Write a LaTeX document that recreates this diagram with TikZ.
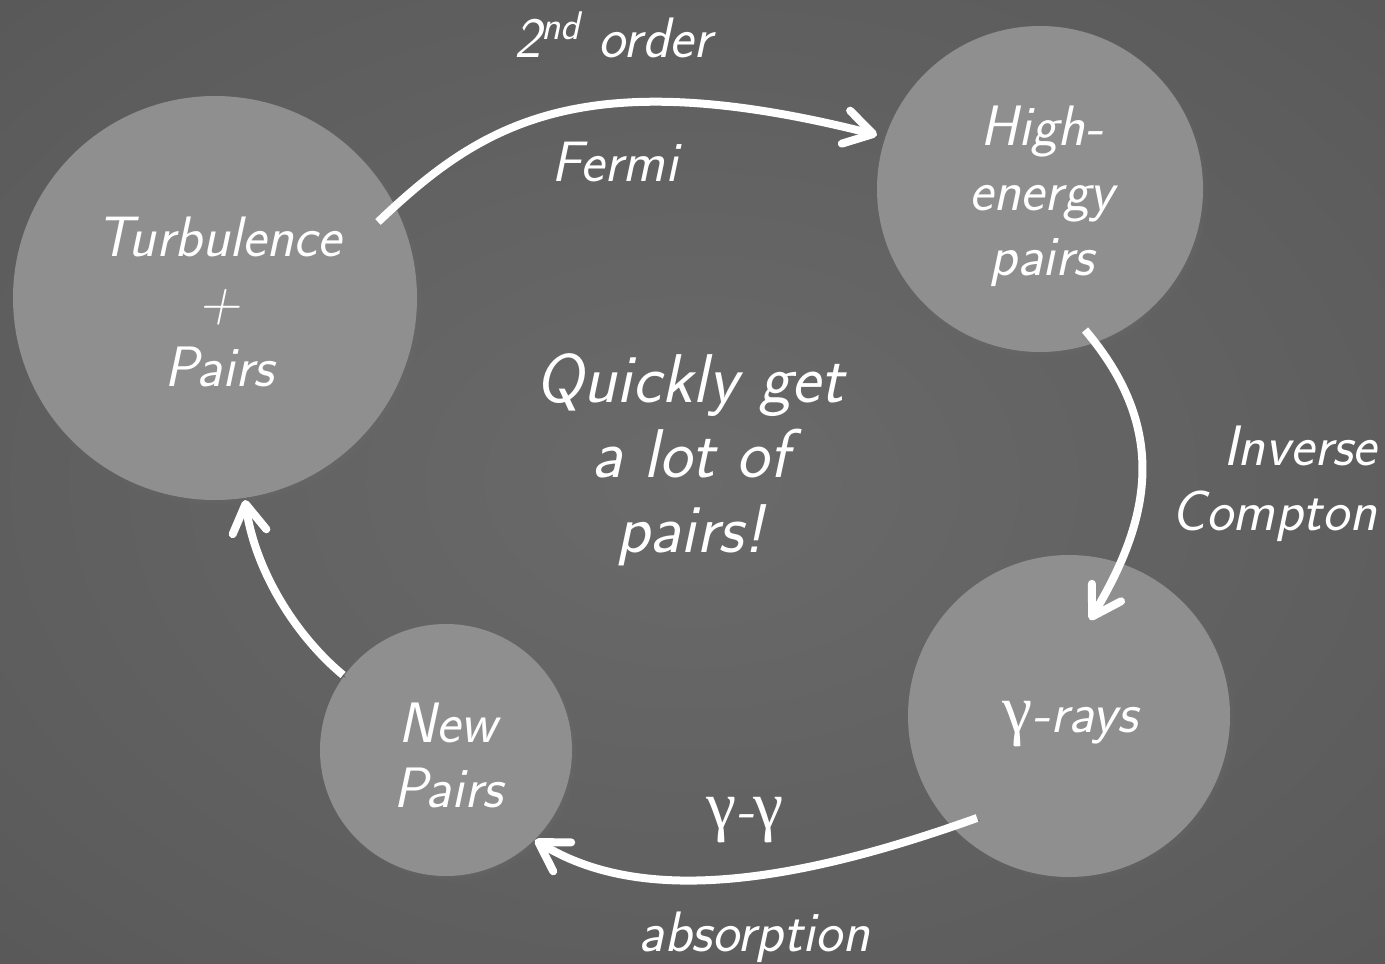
\documentclass[tikz,border=0pt]{standalone}
\usepackage{fontspec}
\newfontfamily\gfont{Liberation Serif}
\usetikzlibrary{arrows.meta,shadows}
\definecolor{bgin}{RGB}{106,106,106}
\definecolor{bgmid}{RGB}{92,92,92}
\definecolor{bgedge}{RGB}{80,80,80}
\definecolor{bgout}{RGB}{54,54,54}
\definecolor{disc}{RGB}{143,143,143}
\pgfdeclareradialshading{bgshade}{\pgfpoint{0bp}{0bp}}{color(0bp)=(bgin); color(30bp)=(bgmid); color(50bp)=(bgedge); color(71bp)=(bgout)}
\newcommand{\gam}{{\gfont\upshape\fontsize{34pt}{34pt}\selectfont γ}}
\begin{document}
\begin{tikzpicture}[x=0.5pt,y=-0.5pt,
  txt/.style={text=white, font=\fontsize{28.5pt}{32.5pt}\selectfont\sffamily\itshape},
  disc/.style={circle, fill=disc, inner sep=0pt,
    circular drop shadow={shadow xshift=1.5pt, shadow yshift=-1.5pt, opacity=0.35, shadow scale=1.02}},
  lbl/.style={txt, inner sep=0pt, align=center},
  flow/.style={draw=white, line width=4pt,
    preaction={draw=black, opacity=0.3, transform canvas={shift={(1.2pt,-1.2pt)}}},
    -{Straight Barb[length=14pt,width=17pt,round]}}]
\shade[shading=bgshade] (0,0) rectangle (1385,963);
\useasboundingbox (0,0) rectangle (1385,963);

\node[disc, minimum size=202pt] (turb) at (215,298) {};
\node[disc, minimum size=163pt] (high) at (1040,189) {};
\node[disc, minimum size=161pt] (gray) at (1069,716) {};
\node[disc, minimum size=126pt] (newp) at (446,750) {};

\node[lbl] (turbt) at (219,302) {Turbulence\\+\\Pairs};
\node[lbl] (hight) at (1042,196) {High-\\energy\\pairs};
\node[lbl] (grayt) at (1070,724) {\gam-rays};
\node[lbl] (newpt) at (448,755) {New\\Pairs};

\node[lbl, font=\fontsize{34.5pt}{37.5pt}\selectfont\sffamily\itshape] (mid) at (690,460) {Quickly get\\a lot of\\pairs!};

\node[lbl] (l1) at (613,35) {2\textsuperscript{nd} order};
\node[lbl] (l2) at (615,162) {Fermi};
\node[lbl, align=right, anchor=east] (l3) at (1377,484) {Inverse\\Compton};
\node[lbl] (l4) at (745,820) {\gam-\gam};
\node[lbl] (l5) at (754,937) {absorption};

\coordinate (a1s) at (378,222);
\coordinate (a1e) at (877,135);
\coordinate (a2s) at (1085,330);
\coordinate (a2e) at (1090,620);
\coordinate (a3s) at (977,818);
\coordinate (a3e) at (535,840);
\coordinate (a4s) at (343,675);
\coordinate (a4e) at (245,500);

\draw[flow] (a1s) .. controls (480,125) and (580,60) .. (a1e);
\draw[flow] (a2s) .. controls (1170,430) and (1150,520) .. (a2e);
\draw[flow] (a3s) .. controls (790,885) and (640,905) .. (a3e);
\draw[flow] (a4s) .. controls (295,635) and (255,570) .. (a4e);
\end{tikzpicture}
\end{document}
